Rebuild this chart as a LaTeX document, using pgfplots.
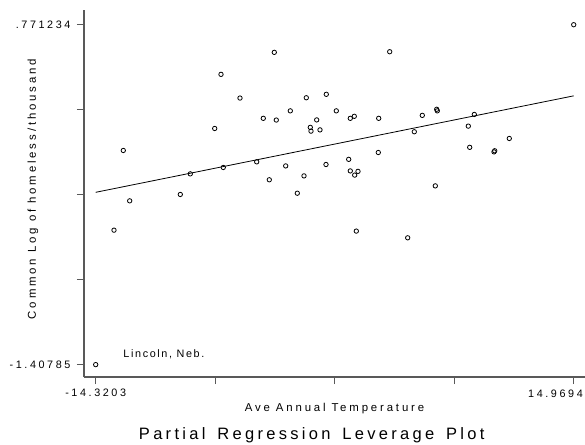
\documentclass[border=0pt]{standalone}
\usepackage{fontspec}
\setmainfont{Liberation Sans}
\newfontfamily\lab[LetterSpace=24]{Liberation Sans}
\newfontfamily\labb[LetterSpace=25]{Liberation Sans}
\newfontfamily\linc[LetterSpace=15]{Liberation Sans}
\newfontfamily\ttl[LetterSpace=20,WordSpace=1.5]{Liberation Sans}
\usepackage{pgfplots}
\pgfplotsset{compat=1.18}
\pgfplotstableread{
x y
-14.320 -1.408
-13.199 -0.546
-12.629 -0.035
-12.237 -0.358
-9.136 -0.317
-8.524 -0.185
-7.029 0.106
-6.643 0.453
-6.502 -0.144
-5.479 0.301
-4.455 -0.108
-4.051 0.171
-3.683 -0.223
-3.377 0.594
-3.254 0.160
-2.678 -0.134
-2.396 0.219
-1.967 -0.309
-1.557 -0.198
-1.416 0.303
-1.171 0.113
-1.128 0.089
-0.779 0.161
-0.577 0.097
-0.190 0.325
-0.209 -0.125
0.422 0.219
1.182 -0.092
1.280 0.171
1.280 -0.166
1.525 0.184
1.550 -0.193
1.752 -0.169
1.648 -0.552
3.021 0.171
2.996 -0.048
3.695 0.598
4.797 -0.595
5.202 0.085
5.692 0.190
6.489 -0.262
6.574 0.229
6.611 0.219
8.511 0.121
8.597 -0.015
8.879 0.196
10.086 -0.044
10.129 -0.037
11.023 0.042
14.9694 0.771234
}\pts
\begin{document}
\begin{tikzpicture}
\path[use as bounding box] (-84pt,-67pt) rectangle (501pt,377pt);
\begin{axis}[
 at={(0pt,0pt)}, anchor=south west,
 scale only axis, width=501pt, height=367pt,
 xmin=-15.037, xmax=15.662, ymin=-1.4874, ymax=0.8656,
 axis lines*=left,
 axis line style={draw=black!65, line width=1.5pt},
 tick align=outside,
 major tick length=7pt,
 tick style={draw=black!65, line width=0.9pt},
 xtick={-14.3203,-6.99787,0.32455,7.64698,14.9694},
 xticklabels={-14.3203,,,,},
 ytick={-1.40785,-0.863078,-0.318306,0.226466,0.771234},
 yticklabels={-1.40785,,,,.771234},
 ticklabel style={font=\lab\fontsize{10.8}{12}\selectfont},
 xticklabel style={yshift=-1pt},
 yticklabel style={xshift=-3pt},
 xlabel={Ave Annual Temperature},
 xlabel style={font=\labb\fontsize{11.4}{13}\selectfont, at={(axis description cs:0.5,0)}, anchor=center, yshift=-31.5pt},
 ylabel={Common Log of homeless/thousand},
 ylabel style={font=\labb\fontsize{11.4}{13}\selectfont, at={(axis description cs:0,0.512)}, anchor=center, yshift=51pt},
 title={Partial Regression Leverage Plot},
 title style={font=\ttl\fontsize{16.5}{18}\selectfont, at={(axis description cs:0.4545,0)}, anchor=center, yshift=-64pt},
 clip=false,
]
\addplot[only marks, mark=o, mark size=2.2pt, mark options={line width=0.8pt, black}] table[x=x,y=y] {\pts};
\addplot[black, line width=0.8pt] coordinates {(-14.3203,-0.3033) (14.9694,0.3152)};
\node[anchor=west, inner sep=0pt, font=\linc\fontsize{10.8}{12}\selectfont] at (axis cs:-12.629,-1.342) {Lincoln, Neb.};
\node[anchor=east, inner sep=0pt, font=\lab\fontsize{10.8}{12}\selectfont] at (rel axis cs:1,0) [xshift=-2pt, yshift=-17pt] {14.9694};
\end{axis}
\end{tikzpicture}
\end{document}
